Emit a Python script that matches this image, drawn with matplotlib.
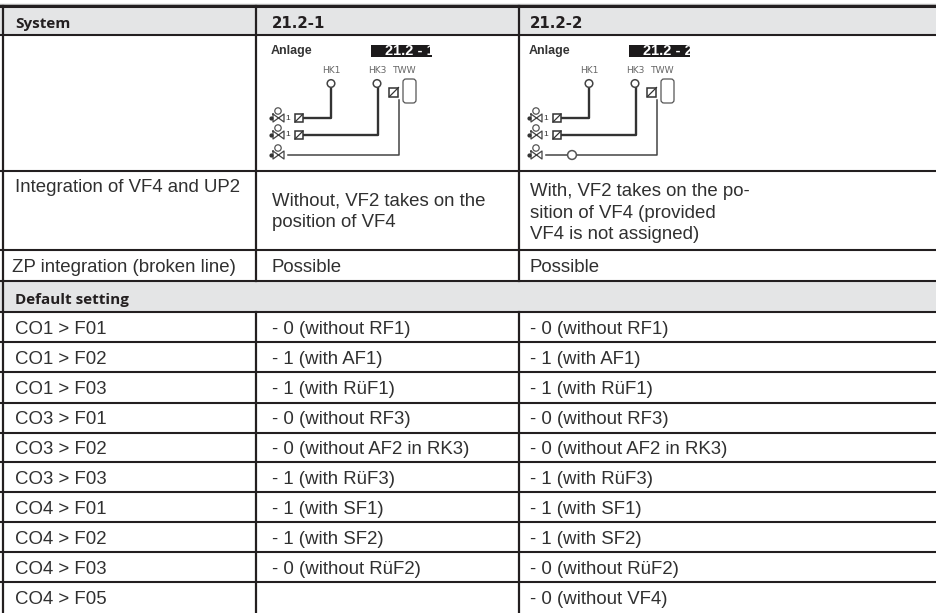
"""Default settings table for systems 21.2-1 and 21.2-2, with the two small schematics."""
import matplotlib
matplotlib.use("Agg")
import matplotlib.pyplot as plt
from matplotlib.patches import Circle, FancyBboxPatch, Rectangle

W, H = 937, 613
DARK = "#231f20"
TEXT = "#303030"
SHADE = "#e4e5e6"

# table content
header = ["System", "21.2-1", "21.2-2"]
integration = ["Integration of VF4 and UP2",
               "Without, VF2 takes on the\nposition of VF4",
               "With, VF2 takes on the po-\nsition of VF4 (provided\nVF4 is not assigned)"]
zp_row = ["ZP integration (broken line)", "Possible", "Possible"]
section = "Default setting"
functions = ["CO1 > F01", "CO1 > F02", "CO1 > F03", "CO3 > F01", "CO3 > F02",
             "CO3 > F03", "CO4 > F01", "CO4 > F02", "CO4 > F03", "CO4 > F05"]
values_1 = ["- 0 (without RF1)", "- 1 (with AF1)", "- 1 (with RüF1)", "- 0 (without RF3)",
            "- 0 (without AF2 in RK3)", "- 1 (with RüF3)", "- 1 (with SF1)", "- 1 (with SF2)",
            "- 0 (without RüF2)", ""]
values_2 = ["- 0 (without RF1)", "- 1 (with AF1)", "- 1 (with RüF1)", "- 0 (without RF3)",
            "- 0 (without AF2 in RK3)", "- 1 (with RüF3)", "- 1 (with SF1)", "- 1 (with SF2)",
            "- 0 (without RüF2)", "- 0 (without VF4)"]

# grid positions in pixels
col_x = [3, 256, 519]
row_y = [6, 35, 171, 250, 281, 312, 342, 372, 403, 433, 462, 492, 522, 552, 582, 613]


def body(ax, x, y, s):
    ax.text(x, y, s, family="Liberation Sans", fontsize=13.45, color=TEXT,
            va="center", ha="left", linespacing=1.38)


def bold(ax, x, y, s, family="Open Sans", size=11.0):
    ax.text(x, y, s, family=family, fontweight="bold", fontsize=size, color=DARK,
            va="center", ha="left")


def mixer(ax, x, y, one=True):
    # small three way valve symbol
    ax.plot([x - 8, x + 3, x + 3, x - 8, x - 8], [y - 4, y + 4, y - 4, y + 4, y - 4],
            color="#444444", lw=0.9)
    ax.add_patch(Circle((x - 3, y - 7), 3.2, fc="white", ec="#555555", lw=0.9, zorder=3))
    ax.plot(x - 9.5, y, "o", ms=2, color="#333333")
    if one:
        ax.text(x + 7, y, "1", fontsize=6, color="#333333", ha="center", va="center",
                family="Liberation Sans")


def sensor(ax, x, y, size=8):
    ax.add_patch(Rectangle((x - size / 2, y - size / 2), size, size, fc="white",
                           ec="#333333", lw=1.1, zorder=3))
    ax.plot([x - size / 2, x + size / 2], [y + size / 2, y - size / 2], color="#333333", lw=0.9, zorder=4)


def schematic(ax, dx, tag, pump=False):
    ax.text(dx + 271, 51, "Anlage", family="Liberation Sans", fontweight="bold",
            fontsize=9, color="#333333", va="center", ha="left")
    box = Rectangle((dx + 371, 45), 61, 12, fc="#1c1a1b", ec="none")
    ax.add_patch(box)
    label = ax.text(dx + 435, 51, tag, family="Liberation Sans", fontweight="bold", fontsize=10.5,
                    color="white", va="center", ha="right", zorder=3)
    label.set_clip_path(box)
    for lx, lab in zip([331, 377, 405], ["HK1", "HK3", "TWW"]):
        ax.text(dx + lx, 70.5, lab, family="DejaVu Sans", fontsize=6.6, color="#666666",
                va="center", ha="center")

    ax.plot([dx + 303, dx + 331, dx + 331], [118, 118, 88], color="#333333", lw=1.7)
    ax.plot([dx + 303, dx + 378, dx + 378], [135, 135, 88], color="#333333", lw=1.7)
    ax.plot([dx + 288, dx + 399, dx + 399], [155, 155, 100], color="#444444", lw=1.1)
    for cx in [331, 377]:
        ax.add_patch(Circle((dx + cx, 83.5), 3.8, fc="white", ec="#444444", lw=1.1, zorder=3))
    ax.add_patch(FancyBboxPatch((dx + 403, 79), 13, 24, boxstyle="round,pad=0,rounding_size=3",
                                fc="white", ec="#555555", lw=0.9, zorder=3))
    sensor(ax, dx + 394, 92, 9)
    sensor(ax, dx + 299, 118)
    sensor(ax, dx + 299, 135)
    mixer(ax, dx + 281, 118)
    mixer(ax, dx + 281, 135)
    mixer(ax, dx + 281, 155, one=False)
    if pump:
        ax.add_patch(Circle((dx + 314, 155), 4.4, fc="white", ec="#555555", lw=1.1, zorder=3))


def main():
    fig = plt.figure(figsize=(W / 100, H / 100), dpi=100, facecolor="white")
    ax = fig.add_axes([0, 0, 1, 1])
    ax.set_xlim(0, W)
    ax.set_ylim(H, 0)
    ax.axis("off")

    # shaded rows
    ax.add_patch(Rectangle((0, row_y[0]), W, row_y[1] - row_y[0], fc=SHADE, ec="none", zorder=0))
    ax.add_patch(Rectangle((0, row_y[4]), W, row_y[5] - row_y[4], fc=SHADE, ec="none", zorder=0))

    # rules
    ax.plot([0, W], [4, 4], color="#b5b5b5", lw=1.0, zorder=1)
    ax.plot([0, W], [row_y[0], row_y[0]], color=DARK, lw=2.2, zorder=2)
    for y in row_y[1:-1]:
        ax.plot([0, W], [y, y], color=DARK, lw=1.5, zorder=2)
    for x in col_x:
        ax.plot([x, x], [row_y[0], row_y[4]], color=DARK, lw=1.6, zorder=2)
        ax.plot([x, x], [row_y[5], row_y[-1]], color=DARK, lw=1.6, zorder=2)
    ax.plot([col_x[0], col_x[0]], [row_y[4], row_y[5]], color=DARK, lw=1.6, zorder=2)

    # header row
    bold(ax, 15, 24, header[0])
    bold(ax, 272, 24, header[1], family="DejaVu Sans", size=10.8)
    bold(ax, 530, 24, header[2], family="DejaVu Sans", size=10.8)

    schematic(ax, 0, "21.2 - 1")
    schematic(ax, 258, "21.2 - 2", pump=True)

    body(ax, 15, 188, integration[0])
    body(ax, 272, 212, integration[1])
    body(ax, 530, 213, integration[2])

    body(ax, 12, 268, zp_row[0])
    body(ax, 272, 268, zp_row[1])
    body(ax, 530, 268, zp_row[2])

    bold(ax, 15, 300, section)

    for i, (name, v1, v2) in enumerate(zip(functions, values_1, values_2)):
        y = (row_y[5 + i] + row_y[6 + i]) / 2 + 2
        body(ax, 15, y, name)
        body(ax, 272, y, v1)
        body(ax, 530, y, v2)

    fig.savefig("out.png", dpi=100)


if __name__ == "__main__":
    main()
